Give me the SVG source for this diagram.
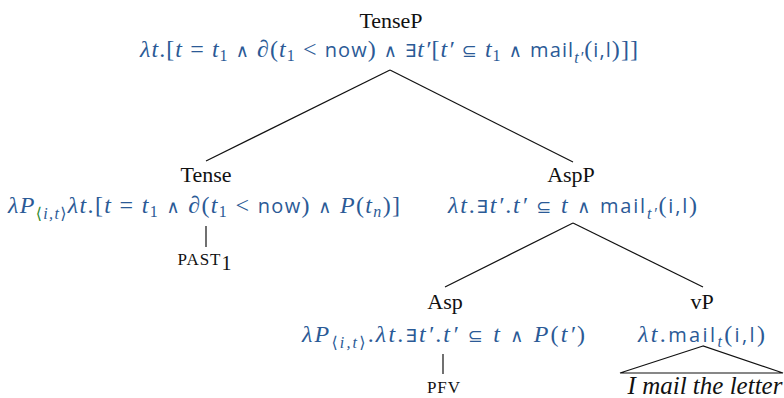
<svg xmlns="http://www.w3.org/2000/svg" width="784" height="398" viewBox="0 0 784 398">
<style>
.lbl{font-family:"Liberation Serif","DejaVu Serif",serif;font-size:22px;fill:#111;text-anchor:middle}
.f{font-family:"Liberation Serif","DejaVu Serif",serif;font-size:24px;fill:#2b5a96}
.i{font-style:italic}
.s{font-family:"Open Sans","Noto Sans","DejaVu Sans",sans-serif;font-size:20px}
.o{font-family:"DejaVu Sans",sans-serif;font-size:18px}
.sb{font-size:16px}
.g{fill:#2e8b2e}
.lf{font-family:"Liberation Serif","DejaVu Serif",serif;fill:#111;text-anchor:middle;letter-spacing:1px}
.ln{stroke:#111;stroke-width:1.2;fill:none}
.yield{font-size:25px}
</style>
<rect width="784" height="398" fill="#fff"/>
<g id="connectors">
<line class="ln" x1="390" y1="70" x2="206" y2="161"/>
<line class="ln" x1="390" y1="70" x2="573" y2="162"/>
<line class="ln" x1="573" y1="223" x2="445" y2="287"/>
<line class="ln" x1="573" y1="223" x2="703" y2="287"/>
<line class="ln" x1="206" y1="226" x2="206" y2="247"/>
<line class="ln" x1="443" y1="354" x2="443" y2="374"/>
<polygon class="ln" points="703,346 620,373 783,373"/>
</g>
<g id="TenseP">
<text class="lbl" x="391" y="28">TenseP</text>
<text class="f" x="140" y="57" textLength="498" lengthAdjust="spacing"><tspan class="i">λt</tspan>.[<tspan class="i">t</tspan> = <tspan class="i">t</tspan><tspan class="sb" dy="4">1</tspan><tspan dy="-4"> </tspan><tspan class="o">∧</tspan> ∂(<tspan class="i">t</tspan><tspan class="sb" dy="4">1</tspan><tspan dy="-4"> &lt; </tspan><tspan class="s">now</tspan>) <tspan class="o">∧ ∃</tspan><tspan class="i">t′</tspan>[<tspan class="i">t′</tspan> <tspan class="o">⊆</tspan> <tspan class="i">t</tspan><tspan class="sb" dy="4">1</tspan><tspan dy="-4"> </tspan><tspan class="o">∧</tspan> <tspan class="s">mail</tspan><tspan class="sb i" dy="6">t′</tspan><tspan dy="-6">(</tspan><tspan class="s">i,l</tspan>)]]</text>
</g>
<g id="Tense">
<text class="lbl" x="206" y="182">Tense</text>
<text class="f" x="8" y="213" textLength="392" lengthAdjust="spacing"><tspan class="i">λP</tspan><tspan class="sb g" dy="6">⟨</tspan><tspan class="sb i">i,t</tspan><tspan class="sb">⟩</tspan><tspan class="i" dy="-6">λt</tspan>.[<tspan class="i">t</tspan> = <tspan class="i">t</tspan><tspan class="sb" dy="4">1</tspan><tspan dy="-4"> </tspan><tspan class="o">∧</tspan> ∂(<tspan class="i">t</tspan><tspan class="sb" dy="4">1</tspan><tspan dy="-4"> &lt; </tspan><tspan class="s">now</tspan>) <tspan class="o">∧</tspan> <tspan class="i">P</tspan>(<tspan class="i">t</tspan><tspan class="sb i" dy="4">n</tspan><tspan dy="-4">)]</tspan></text>
</g>
<g id="PAST1">
<text class="lf" x="205" y="265"><tspan font-size="17px">PAST</tspan><tspan font-size="20px" dy="5">1</tspan></text>
</g>
<g id="AspP">
<text class="lbl" x="571" y="182">AspP</text>
<text class="f" x="448" y="213" textLength="249" lengthAdjust="spacing"><tspan class="i">λt</tspan>.<tspan class="o">∃</tspan><tspan class="i">t′</tspan>.<tspan class="i">t′</tspan> <tspan class="o">⊆</tspan> <tspan class="i">t</tspan> <tspan class="o">∧</tspan> <tspan class="s">mail</tspan><tspan class="sb i" dy="6">t′</tspan><tspan dy="-6">(</tspan><tspan class="s">i,l</tspan>)</text>
</g>
<g id="Asp">
<text class="lbl" x="445" y="309">Asp</text>
<text class="f" x="302" y="342" textLength="283" lengthAdjust="spacing"><tspan class="i">λP</tspan><tspan class="sb" dy="6">⟨</tspan><tspan class="sb i">i,t</tspan><tspan class="sb">⟩</tspan><tspan dy="-6">.</tspan><tspan class="i">λt</tspan>.<tspan class="o">∃</tspan><tspan class="i">t′</tspan>.<tspan class="i">t′</tspan> <tspan class="o">⊆</tspan> <tspan class="i">t</tspan> <tspan class="o">∧</tspan> <tspan class="i">P</tspan>(<tspan class="i">t′</tspan>)</text>
</g>
<g id="PFV">
<text class="lf" x="444" y="393" font-size="17px">PFV</text>
</g>
<g id="vP">
<text class="lbl" x="702" y="309">vP</text>
<text class="f" x="638" y="342" textLength="127" lengthAdjust="spacing"><tspan class="i">λt</tspan>.<tspan class="s">mail</tspan><tspan class="sb i" dy="5">t</tspan><tspan dy="-5">(</tspan><tspan class="s">i,l</tspan>)</text>
<text class="lbl i yield" x="705" y="394">I mail the letter</text>
</g>
</svg>
